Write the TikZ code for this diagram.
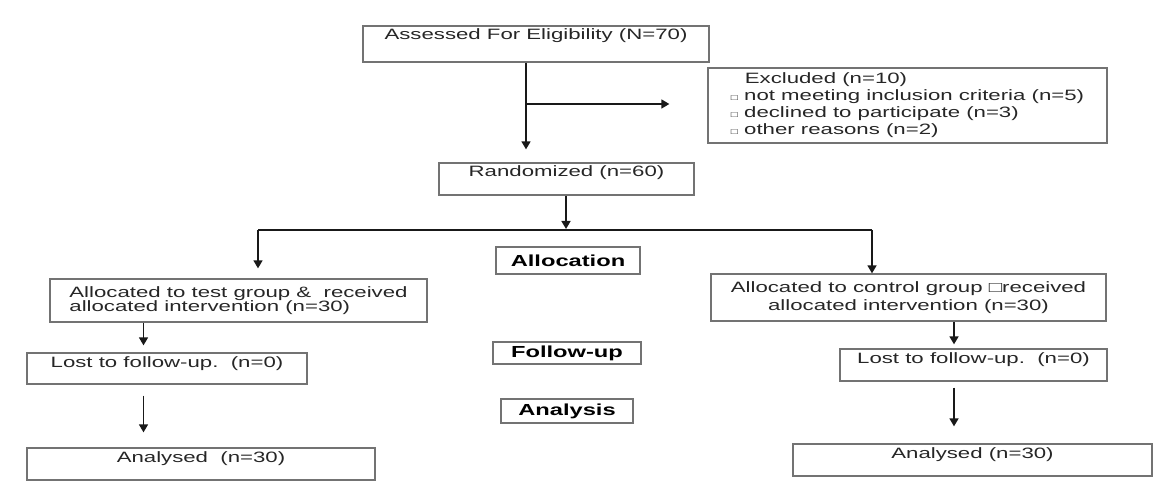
\documentclass[tikz,border=0pt]{standalone}
\usepackage{fontspec}
\setmainfont{Liberation Sans}[FakeStretch=1.48]
\usepackage{tikz}
\usetikzlibrary{arrows.meta}

\begin{document}
\begin{tikzpicture}[x=1pt,y=-1pt,>={Triangle[length=8pt,width=9pt]},
every node/.style={font=\fontsize{15}{15}\selectfont,text=black!85},
box/.style={draw=black!55,line width=1.3pt,inner sep=0pt,minimum width=#1},
toptext/.style={text height=14pt,text depth=#1},
lab/.style={draw=black!55,line width=1.3pt,inner sep=0pt,text=black,font=\fontsize{16}{16}\selectfont\bfseries},
arr/.style={->,draw=black!90,line width=1.6pt},
line/.style={draw=black!90,line width=1.6pt}]
\useasboundingbox (0,0) rectangle (1161,486);
\node[box=346,toptext=22pt] (elig) at (536,44) {Assessed For Eligibility (N=70)};
\node[box=399,minimum height=75pt,align=left,font=\fontsize{15}{17}\selectfont] (excl) at (907.5,105.5) {\hspace*{14pt}Excluded (n=10)\\{\fontsize{8}{8}\selectfont □} not meeting inclusion criteria (n=5)\\{\fontsize{8}{8}\selectfont □} declined to participate (n=3)\\{\fontsize{8}{8}\selectfont □} other reasons (n=2)};
\node[box=255,toptext=18pt] (rand) at (566.5,179) {Randomized (n=60)};
\node[lab,minimum width=144pt,minimum height=27pt] (alloc) at (568,260.5) {Allocation};
\node[box=377,minimum height=43pt,align=left,font=\fontsize{15}{14}\selectfont] (test) at (238.5,300.5) {Allocated to test group \&\ \ received\\allocated intervention (n=30)};
\node[box=395,minimum height=47pt,align=center,font=\fontsize{15}{18}\selectfont] (ctrl) at (908.5,297.5) {Allocated to control group □received\\allocated intervention (n=30)};
\node[lab,minimum width=148pt,minimum height=22pt] (follow) at (567,353) {Follow-up};
\node[lab,minimum width=132pt,minimum height=24pt] (analysis) at (567,411) {Analysis};
\node[box=280,toptext=17pt] (lostL) at (167,368.5) {Lost to follow-up.\ \ (n=0)};
\node[box=267,toptext=18pt] (lostR) at (973.5,365) {Lost to follow-up.\ \ (n=0)};
\node[box=348,toptext=18pt] (anaL) at (201,464) {Analysed\ \ (n=30)};
\node[box=359,toptext=18pt] (anaR) at (972.5,460) {Analysed (n=30)};
\coordinate (branch) at (526,104);
\coordinate (split) at (566,230);
\coordinate (lt) at (258,230);
\coordinate (rt) at (872,230);
\coordinate (lx) at (143.5,400);
\coordinate (rx) at (954,400);
\draw[arr,shorten >=13pt] (elig.south -| branch) -- (rand.north -| branch);
\draw[arr,shorten >=38pt] (branch) -- (excl.west |- branch);
\draw[arr,shorten >=1pt] (rand.south -| split) -- (split);
\draw[line] (lt) -- (rt);
\draw[arr,shorten >=10pt] (lt) -- (test.north -| lt);
\draw[arr] (rt) -- (ctrl.north -| rt);
\draw[arr,shorten >=7pt] (test.south -| lx) -- (lostL.north -| lx);
\draw[arr,shorten <=11pt,shorten >=15pt] (lostL.south -| lx) -- (anaL.north -| lx);
\draw[arr,shorten >=4pt] (ctrl.south -| rx) -- (lostR.north -| rx);
\draw[arr,shorten <=6pt,shorten >=17pt] (lostR.south -| rx) -- (anaR.north -| rx);
\end{tikzpicture}
\end{document}
